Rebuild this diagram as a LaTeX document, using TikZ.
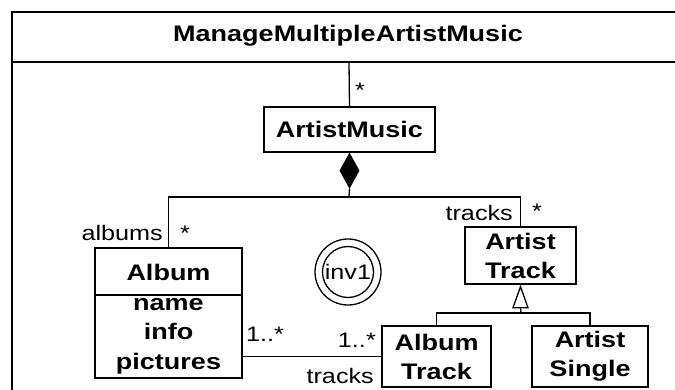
\documentclass[tikz,border=0pt]{standalone}
\usepackage{fontspec}
\setmainfont{Liberation Sans}[FakeStretch=1.2]
\usetikzlibrary{positioning,shapes.geometric}

\begin{document}
\begin{tikzpicture}[x=1pt, y=-1pt,
cls/.style={draw, line width=2pt, inner sep=0pt, align=center, font=\fontsize{22.5}{29}\selectfont\bfseries},
txt/.style={inner sep=0pt, align=center, font=\fontsize{22.5}{29.5}\selectfont\bfseries},
lbl/.style={inner sep=0pt, font=\fontsize{21}{24}\selectfont},
conn/.style={line width=1.3pt}]

\useasboundingbox (0,0) rectangle (675,389);
\clip (0,0) rectangle (675,389);

\draw[line width=2pt] (12,12) rectangle (700,420);
\draw[line width=2pt] (12,62) -- (700,62);
\node[txt] (title) at (348,36) {ManageMultipleArtistMusic};
\coordinate (top) at (349,62);

\node[cls, minimum width=171pt, minimum height=45pt] (amusic) at (349.5,129.5) {ArtistMusic};
\node[diamond, draw, fill, conn, inner sep=0pt, minimum width=19pt, minimum height=34pt, anchor=north] (dia) at (amusic.south) {};
\coordinate (jc) at (349,197);

\node[cls, minimum width=147pt, minimum height=130pt] (album) at (168.5,313) {};
\node[txt] (albumname) at (168.5,272) {Album};
\coordinate (asep) at (168.5,295);
\node[txt] (albumattr) at (168.5,336) {name\\info\\pictures};

\node[cls, minimum width=111pt, minimum height=57pt] (atrack) at (520.5,255.5) {Artist\\Track};
\node[isosceles triangle, isosceles triangle stretches, shape border rotate=90, draw, fill=white, conn, inner sep=0pt, minimum height=21pt, minimum width=15pt, anchor=apex] (gen) at (atrack.south) {};
\coordinate (gj) at (521,313);

\node[cls, minimum width=109pt, minimum height=61pt] (albtrack) at (436.5,356.5) {Album\\Track};
\node[cls, minimum width=116pt, minimum height=61pt] (asingle) at (590,356.5) {Artist\\Single};

\node[circle, draw, conn, lbl, inner sep=0pt, minimum size=51pt] (inv) at (348,272) {inv1};
\node[circle, draw, conn, inner sep=0pt, minimum size=66pt] (invring) at (inv) {};

\draw[conn] (top) -- (amusic.north);
\node[lbl] (mMusic) at (360,90) {*};
\draw[line width=2pt] (album.west |- asep) -- (album.east |- asep);
\draw[conn] (dia.south) -- (jc);
\draw[conn] (jc) -| (album.north);
\draw[conn] (jc) -| (atrack.north);
\draw[conn] (gen.lower side) -- (gj);
\draw[conn] (gj) -| (albtrack.north);
\draw[conn] (gj) -| (asingle.north);
\draw[conn] (albtrack.west) -- (albtrack.west -| album.east);

\node[lbl, anchor=east] (rAlbums) at (163,233) {albums};
\node[lbl] (mAlbums) at (185,233) {*};
\node[lbl, anchor=east] (rTracks) at (513,213) {tracks};
\node[lbl] (mTracks) at (537,211) {*};
\node[lbl, anchor=west] (mAlbumEnd) at (246,334) {1..*};
\node[lbl, anchor=east] (mTrackEnd) at (376,340) {1..*};
\node[lbl, anchor=east] (rTrackEnd) at (374,376) {tracks};

\end{tikzpicture}
\end{document}
